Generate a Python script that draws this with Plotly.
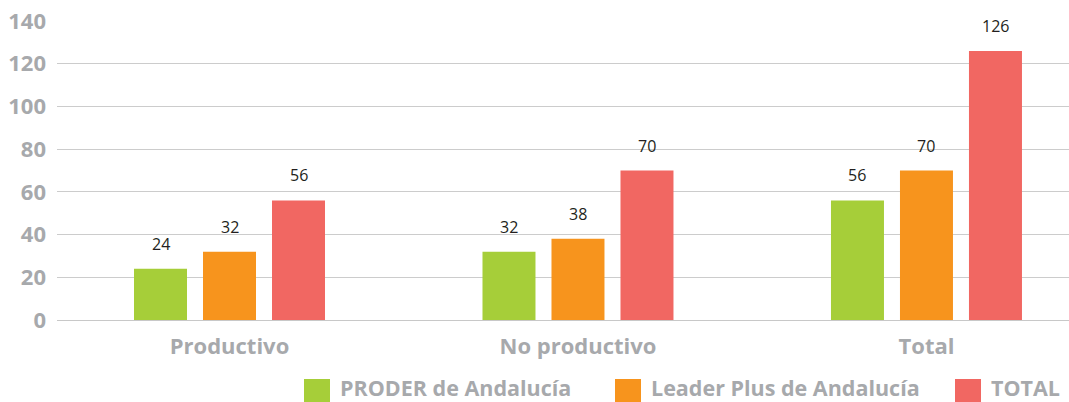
import plotly.graph_objects as go

categories = ["Productivo", "No productivo", "Total"]
series_names = ["PRODER de Andalucía", "Leader Plus de Andalucía", "TOTAL"]
proder = [24, 32, 56]
leader = [32, 38, 70]
total = [56, 70, 126]
y_ticks = [0, 20, 40, 60, 80, 100, 120, 140]

colors = ["#a6ce39", "#f7941d", "#f16762"]
gray = "#a7a9ac"
FONT = "Open Sans"

W, H = 1069, 402
ML, MT, MB, MR = 57, 21, 82, 0
plot_w = W - ML - MR
plot_h = H - MT - MB

fig = go.Figure()
all_series = [proder, leader, total]
for name, vals, col in zip(series_names, all_series, colors):
    fig.add_trace(go.Bar(x=categories, y=vals, name=name, marker_color=col,
                         marker_line_width=0, showlegend=False, hoverinfo="skip"))

# data labels
shifts = [-69, 0, 69]
for vals, sh in zip(all_series, shifts):
    for c, v in zip(categories, vals):
        fig.add_annotation(x=c, y=v, text=str(v), showarrow=False, xshift=sh,
                           yanchor="bottom", yshift=12,
                           font=dict(family=FONT, size=16, color="#231f20"))

# manual legend
def px_to_paper_x(px):
    return (px - ML) / plot_w

def px_to_paper_y(py):
    return (H - MB - py) / plot_h

leg_sq = [304, 615, 955]
for name, col, sx in zip(series_names, colors, leg_sq):
    fig.add_shape(type="rect", xref="paper", yref="paper",
                  x0=px_to_paper_x(sx), x1=px_to_paper_x(sx + 26),
                  y0=px_to_paper_y(402), y1=px_to_paper_y(379),
                  fillcolor=col, line_width=0)
    fig.add_annotation(xref="paper", yref="paper", x=px_to_paper_x(sx + 35),
                       y=px_to_paper_y(387.5), text=name, showarrow=False,
                       xanchor="left", yanchor="middle", borderpad=0,
                       font=dict(family=FONT, size=21.5, color=gray, weight="bold"))

fig.update_layout(
    width=W, height=H,
    margin=dict(l=ML, r=MR, t=MT, b=MB, pad=0),
    plot_bgcolor="white", paper_bgcolor="white",
    barmode="group", bargap=0.406, bargroupgap=0.232,
    font=dict(family=FONT),
)
fig.update_xaxes(range=[-0.495, 2.409], showgrid=False, showline=False, ticks="",
                 tickfont=dict(family=FONT, size=22, color=gray, weight="bold"),
                 ticklabelstandoff=11)
fig.update_yaxes(range=[0, 140], tickvals=y_ticks, showgrid=True, gridcolor="#cccccc",
                 gridwidth=1.3, zeroline=True, zerolinecolor="#c8c8c8", zerolinewidth=1.3,
                 showline=False, ticks="",
                 tickfont=dict(family=FONT, size=22, color=gray, weight="bold"),
                 ticklabelstandoff=10)

fig.write_html("out.html", config={"displayModeBar": False},
               post_script="document.body.style.margin='0';document.body.style.overflow='hidden';")
